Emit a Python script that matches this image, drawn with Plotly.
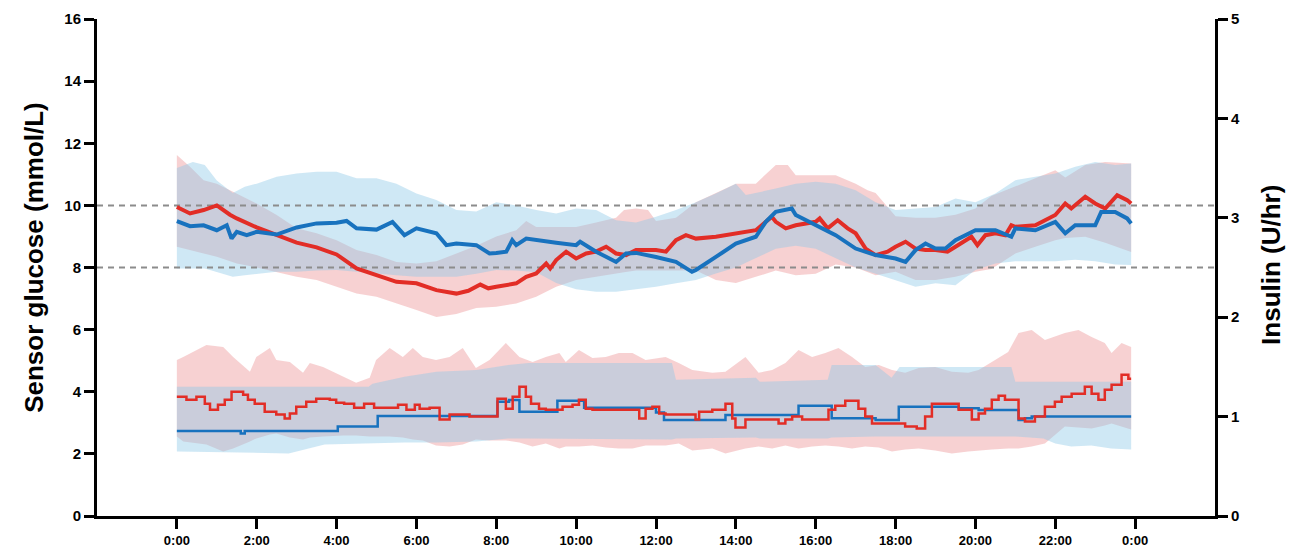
import plotly.graph_objects as go

# ---------------- DATA (hours since midnight) ----------------
# Sensor glucose means (mmol/L)
red_glu_t = [0, 0.33, 0.67, 1.0, 1.33, 1.5, 2.0, 2.5, 3.0, 3.5, 4.0, 4.5, 5.0, 5.5, 6.0, 6.5, 7.0, 7.3, 7.6, 7.8,
             8.0, 8.5, 8.75, 9.0, 9.25, 9.35, 9.5, 9.75, 10.0, 10.25, 10.5, 10.75, 11.0, 11.25, 11.5, 12.0, 12.25,
             12.5, 12.75, 13.0, 13.5, 14.0, 14.5, 14.75, 14.9, 15.0, 15.25, 15.5, 16.0, 16.1, 16.3, 16.55, 16.8,
             17.0, 17.25, 17.5, 17.8, 18.0, 18.25, 18.5, 18.75, 19.0, 19.3, 19.5, 19.9, 20.05, 20.25, 20.5, 20.75,
             20.9, 21.0, 21.5, 22.0, 22.25, 22.4, 22.75, 23.0, 23.25, 23.55, 23.8, 23.9]
red_glu = [9.95, 9.74, 9.85, 10.0, 9.7, 9.58, 9.29, 9.04, 8.8, 8.65, 8.42, 7.97, 7.75, 7.54, 7.49, 7.27, 7.16, 7.25, 7.45, 7.33,
           7.38, 7.49, 7.7, 7.81, 8.13, 7.97, 8.24, 8.51, 8.29, 8.45, 8.51, 8.67, 8.45, 8.4, 8.56, 8.56, 8.51,
           8.88, 9.04, 8.93, 8.99, 9.1, 9.2, 9.47, 9.63, 9.47, 9.26, 9.36, 9.47, 9.58, 9.26, 9.52, 9.26,
           9.1, 8.61, 8.4, 8.51, 8.67, 8.83, 8.61, 8.56, 8.56, 8.51, 8.67, 8.99, 8.72, 9.04, 9.1, 9.04,
           9.36, 9.31, 9.36, 9.69, 10.06, 9.9, 10.28, 10.06, 9.9, 10.33, 10.17, 10.06]

blue_glu_t = [0, 0.33, 0.67, 1.0, 1.25, 1.37, 1.5, 1.75, 2.0, 2.5, 3.0, 3.5, 4.0, 4.25, 4.5, 5.0, 5.4, 5.7, 6.0, 6.5,
              6.75, 7.0, 7.5, 7.83, 8.0, 8.25, 8.4, 8.5, 8.75, 9.0, 9.5, 10.0, 10.1, 10.5, 11.0, 11.25, 11.5, 12.0,
              12.5, 12.9, 13.0, 13.5, 14.0, 14.5, 14.75, 15.0, 15.4, 15.5, 16.0, 16.5, 17.0, 17.5, 18.0, 18.25,
              18.5, 18.75, 19.0, 19.25, 19.5, 20.0, 20.5, 20.9, 21.0, 21.5, 22.0, 22.25, 22.5, 23.0, 23.15, 23.5,
              23.8, 23.9]
blue_glu = [9.49, 9.33, 9.36, 9.2, 9.36, 8.93, 9.15, 9.04, 9.15, 9.06, 9.29, 9.42, 9.44, 9.5, 9.26, 9.22, 9.47, 9.04, 9.26, 9.1,
            8.72, 8.77, 8.72, 8.45, 8.47, 8.51, 8.88, 8.72, 8.93, 8.88, 8.8, 8.72, 8.83, 8.51, 8.18, 8.45, 8.47, 8.34,
            8.18, 7.86, 7.92, 8.34, 8.77, 8.99, 9.47, 9.79, 9.9, 9.69, 9.36, 9.04, 8.61, 8.4, 8.29, 8.18,
            8.56, 8.77, 8.61, 8.61, 8.88, 9.2, 9.2, 8.99, 9.26, 9.2, 9.47, 9.1, 9.36, 9.36, 9.79, 9.79,
            9.58, 9.42]

# Glucose spread bands (mmol/L)
red_glu_band_t = [0, 0.33, 0.67, 1.0, 1.33, 1.5, 2.0, 2.5, 3.0, 3.5, 4.0, 4.5, 5.0, 5.5, 6.0, 6.5, 7.0, 7.5, 8.0, 8.5,
                  8.75, 9.0, 9.5, 10.0, 10.5, 11.0, 11.2, 11.5, 11.8, 12.0, 12.5, 13.0, 13.5, 14.0, 14.5, 15.0,
                  15.3, 15.5, 16.0, 16.5, 17.0, 17.3, 17.5, 18.0, 18.5, 19.0, 19.5, 20.0, 20.4, 21.0, 21.5, 22.0,
                  22.25, 22.75, 23.25, 23.9]
red_glu_hi = [11.62, 11.24, 10.81, 10.7, 10.49, 10.38, 10.06, 9.69, 9.26, 9.1, 8.88, 8.56, 8.4, 8.18, 8.13, 8.2, 8.45, 8.7, 9.0, 9.2,
              9.5, 9.3, 9.3, 9.3, 9.45, 9.6, 9.85, 9.9, 9.85, 9.5, 9.6, 10.1, 10.4, 10.7, 10.7, 11.3,
              11.3, 10.97, 10.97, 10.97, 10.7, 10.49, 10.4, 9.65, 9.6, 9.6, 9.7, 9.9, 10.3, 10.6, 10.87, 11.13,
              10.9, 11.3, 11.4, 11.35]
red_glu_lo = [8.67, 8.55, 8.45, 8.35, 8.2, 8.13, 8.0, 7.86, 7.7, 7.6, 7.38, 7.16, 7.06, 6.84, 6.63, 6.41, 6.5, 6.7, 6.74, 6.84,
              6.95, 7.06, 7.38, 7.6, 7.7, 7.8, 7.85, 7.9, 7.9, 7.9, 7.9, 7.9, 7.6, 7.5, 7.7, 7.9,
              7.8, 7.75, 7.8, 8.1, 8.0, 7.85, 7.75, 7.86, 7.6, 7.6, 7.7, 7.86, 7.95, 8.45, 8.67, 8.88,
              8.95, 8.99, 8.8, 8.5]

blue_glu_band_t = [0, 0.4, 0.7, 1.0, 1.4, 1.7, 2.0, 2.5, 3.0, 3.5, 4.0, 4.5, 5.0, 5.5, 6.0, 6.5, 7.0, 7.5, 8.0, 8.5,
                   9.0, 9.5, 10.0, 10.5, 11.0, 11.5, 12.0, 12.5, 13.0, 13.5, 14.0, 14.25, 15.0, 15.5, 16.0, 16.5,
                   17.0, 17.5, 18.0, 18.5, 19.0, 19.5, 20.0, 20.5, 21.0, 21.5, 22.0, 22.5, 23.0, 23.5, 23.9]
blue_glu_hi = [11.2, 11.4, 11.3, 10.8, 10.4, 10.6, 10.7, 10.92, 11.03, 11.08, 11.08, 10.87, 10.87, 10.7, 10.38, 10.17, 9.85, 9.8, 10.1, 10.0,
               9.85, 9.74, 9.9, 9.85, 9.52, 9.45, 9.63, 9.85, 10.1, 10.38, 10.7, 10.33, 10.54, 10.7, 10.76, 10.7,
               10.49, 10.1, 9.85, 9.9, 9.95, 10.22, 10.1, 10.38, 10.81, 10.92, 11.03, 11.24, 11.4, 11.3, 11.35]
blue_glu_lo = [7.97, 7.97, 7.97, 7.86, 7.7, 7.75, 7.8, 7.86, 7.86, 7.9, 7.92, 7.85, 7.8, 7.75, 7.7, 7.7, 7.7, 7.8, 7.92, 7.9,
               7.85, 7.5, 7.3, 7.22, 7.22, 7.3, 7.38, 7.49, 7.6, 7.81, 8.0, 8.15, 8.6, 8.7, 8.6, 8.3,
               8.0, 7.8, 7.6, 7.38, 7.49, 7.43, 7.92, 8.13, 8.2, 8.2, 8.2, 8.25, 8.2, 8.1, 8.08]

# Insulin delivery (U/hr), step series: value holds from each time to the next
red_ins_t = [0.0, 0.24, 0.49, 0.70, 0.83, 1.03, 1.20, 1.37, 1.66, 1.78, 1.95, 2.2, 2.49, 2.7, 2.83, 2.99, 3.24, 3.49,
             3.83, 3.99, 4.19, 4.44, 4.69, 4.94, 5.54, 5.75, 5.96, 6.08, 6.33, 6.58, 6.83, 7.33, 8.03, 8.24, 8.41,
             8.58, 8.74, 8.87, 9.07, 9.24, 9.66, 9.91, 10.07, 10.24, 10.41, 11.58, 11.74, 11.91, 12.08, 12.24,
             12.99, 13.08, 13.41, 13.74, 13.91, 13.99, 14.24, 15.07, 15.24, 15.41, 15.66, 16.32, 16.49, 16.74,
             17.07, 17.24, 17.41, 18.24, 18.53, 18.74, 18.91, 19.58, 19.91, 20.08, 20.24, 20.41, 20.58, 20.74,
             21.08, 21.24, 21.49, 21.74, 21.99, 22.16, 22.41, 22.74, 22.91, 23.08, 23.24, 23.41, 23.66, 23.83, 23.9]
red_ins = [1.20, 1.17, 1.20, 1.13, 1.07, 1.12, 1.17, 1.25, 1.22, 1.17, 1.13, 1.05, 1.02, 0.98, 1.03, 1.10, 1.15, 1.18,
           1.17, 1.14, 1.13, 1.09, 1.13, 1.09, 1.12, 1.07, 1.12, 1.08, 1.09, 0.97, 1.02, 1.00, 1.18, 1.08, 1.20,
           1.30, 1.20, 1.13, 1.08, 1.07, 1.10, 1.12, 1.17, 1.08, 1.07, 0.98, 1.08, 1.10, 1.03, 1.02,
           0.97, 1.05, 1.07, 1.13, 0.98, 0.89, 0.97, 0.93, 0.97, 1.00, 0.97, 1.07, 1.11, 1.16,
           1.08, 1.00, 0.93, 0.90, 0.88, 1.00, 1.13, 1.07, 0.97, 1.03, 1.08, 1.17, 1.21, 1.17,
           0.98, 0.95, 1.00, 1.10, 1.15, 1.20, 1.23, 1.30, 1.23, 1.17, 1.27, 1.32, 1.42, 1.38, 1.38]

blue_ins_t = [0.0, 1.6, 1.7, 4.03, 5.03, 8.03, 8.32, 8.58, 9.53, 10.2, 12.0, 12.2, 13.74, 15.57, 16.4, 17.5, 18.08,
              19.58, 20.08, 21.08, 21.24, 21.41, 23.9]
blue_ins = [0.855, 0.83, 0.855, 0.90, 1.006, 1.15, 1.167, 1.05, 1.16, 1.09, 1.04, 0.966, 1.016, 1.11, 0.983, 0.966, 1.10,
            1.083, 1.067, 0.966, 0.983, 1.0, 1.0]

# Insulin spread bands (U/hr)
red_ins_band_t = [0.0, 0.16, 0.74, 1.16, 1.41, 1.83, 1.99, 2.33, 2.49, 2.83, 3.16, 3.33, 3.66, 4.16, 4.49, 4.83, 4.99,
                  5.33, 5.66, 5.91, 6.16, 6.49, 6.83, 7.16, 7.49, 7.83, 8.24, 8.58, 8.91, 9.24, 9.58, 9.74, 10.07,
                  10.41, 10.74, 11.07, 11.41, 11.74, 12.24, 12.57, 12.91, 13.41, 13.74, 14.24, 14.57, 14.91, 15.24,
                  15.57, 15.91, 16.24, 16.57, 16.91, 17.24, 17.58, 17.91, 18.24, 18.58, 18.99, 19.41, 19.82, 20.08,
                  20.41, 20.82, 21.08, 21.41, 21.74, 22.24, 22.58, 22.91, 23.24, 23.41, 23.66, 23.9]
red_ins_hi = [1.57, 1.60, 1.72, 1.70, 1.60, 1.45, 1.60, 1.69, 1.57, 1.55, 1.44, 1.54, 1.50, 1.40, 1.34, 1.39, 1.57,
              1.69, 1.60, 1.69, 1.60, 1.57, 1.60, 1.69, 1.49, 1.57, 1.74, 1.60, 1.55, 1.60, 1.64, 1.55, 1.67,
              1.59, 1.60, 1.64, 1.64, 1.57, 1.60, 1.54, 1.47, 1.44, 1.45, 1.60, 1.44, 1.47, 1.54,
              1.67, 1.60, 1.64, 1.69, 1.60, 1.50, 1.52, 1.47, 1.44, 1.49, 1.50, 1.45, 1.44, 1.47,
              1.55, 1.65, 1.84, 1.87, 1.77, 1.84, 1.87, 1.80, 1.74, 1.64, 1.74, 1.70]
red_ins_lo = [0.80, 0.75, 0.72, 0.65, 0.68, 0.75, 0.78, 0.82, 0.83, 0.79, 0.77, 0.79, 0.80, 0.81, 0.81, 0.80, 0.80,
              0.80, 0.79, 0.77, 0.76, 0.71, 0.70, 0.72, 0.77, 0.76, 0.76, 0.74, 0.70, 0.73, 0.68, 0.70, 0.70,
              0.71, 0.69, 0.68, 0.68, 0.71, 0.71, 0.73, 0.66, 0.68, 0.63, 0.68, 0.70, 0.68, 0.71,
              0.68, 0.70, 0.71, 0.70, 0.68, 0.70, 0.69, 0.65, 0.67, 0.68, 0.66, 0.63, 0.65, 0.66,
              0.67, 0.68, 0.68, 0.70, 0.73, 0.90, 0.89, 0.88, 0.91, 0.93, 0.90, 0.87]

blue_ins_band_t = [0.0, 1.2, 2.8, 3.7, 4.8, 4.9, 5.7, 6.5, 7.5, 8.3, 8.8, 12.4, 12.5, 14.5, 14.6, 16.3, 16.4, 17.5,
                   17.9, 18.1, 20.9, 21.0, 21.7, 22.0, 22.4, 22.9, 23.4, 23.9]
blue_ins_hi = [1.30, 1.30, 1.30, 1.30, 1.30, 1.33, 1.40, 1.45, 1.47, 1.52, 1.54, 1.54, 1.37, 1.39, 1.35, 1.37, 1.52, 1.52,
               1.39, 1.50, 1.50, 1.35, 1.35, 1.35, 1.35, 1.35, 1.35, 1.35]
blue_ins_lo = [0.65, 0.64, 0.63, 0.72, 0.73, 0.73, 0.74, 0.74, 0.75, 0.78, 0.78, 0.77, 0.78, 0.79, 0.78, 0.78, 0.79, 0.80,
               0.80, 0.80, 0.80, 0.80, 0.78, 0.73, 0.70, 0.71, 0.68, 0.67]

target_range = [8, 10]
x_ticks = list(range(0, 25, 2))
x_tick_labels = ["0:00", "2:00", "4:00", "6:00", "8:00", "10:00", "12:00", "14:00", "16:00", "18:00", "20:00", "22:00", "0:00"]
x_range = [-2, 26]
glu_range = [0, 16]
ins_range = [0, 5]

# ---------------- STYLE ----------------
RED = "rgb(226,45,38)"
BLUE = "rgb(24,114,190)"
RED_FILL = "rgba(235,135,138,0.38)"
BLUE_FILL = "rgba(140,200,232,0.42)"
FONT = "Arial, Liberation Sans, sans-serif"

fig = go.Figure()


def band(t, hi, lo, color, yaxis):
    fig.add_trace(go.Scatter(
        x=list(t) + list(t)[::-1], y=list(hi) + list(lo)[::-1],
        fill="toself", fillcolor=color, line=dict(width=0), mode="lines",
        hoverinfo="skip", showlegend=False, yaxis=yaxis))


# glucose bands
band(red_glu_band_t, red_glu_hi, red_glu_lo, RED_FILL, "y")
band(blue_glu_band_t, blue_glu_hi, blue_glu_lo, BLUE_FILL, "y")

# target range dashed lines
for v in target_range:
    fig.add_trace(go.Scatter(x=x_range, y=[v, v], mode="lines",
                             line=dict(color="rgb(140,140,140)", width=2, dash="6px,5px"),
                             showlegend=False, hoverinfo="skip", yaxis="y"))

# glucose means
fig.add_trace(go.Scatter(x=red_glu_t, y=red_glu, mode="lines", line=dict(color=RED, width=4),
                         showlegend=False, yaxis="y"))
fig.add_trace(go.Scatter(x=blue_glu_t, y=blue_glu, mode="lines", line=dict(color=BLUE, width=4),
                         showlegend=False, yaxis="y"))

# insulin bands and steps (right axis)
band(red_ins_band_t, red_ins_hi, red_ins_lo, RED_FILL, "y2")
band(blue_ins_band_t, blue_ins_hi, blue_ins_lo, BLUE_FILL, "y2")
fig.add_trace(go.Scatter(x=blue_ins_t, y=blue_ins, mode="lines", line=dict(color=BLUE, width=2.5, shape="hv"),
                         showlegend=False, yaxis="y2"))
fig.add_trace(go.Scatter(x=red_ins_t, y=red_ins, mode="lines", line=dict(color=RED, width=2.5, shape="hv"),
                         showlegend=False, yaxis="y2"))

axis_common = dict(showgrid=False, zeroline=False, showline=True, linecolor="black", linewidth=3,
                   ticks="outside", ticklen=10, tickwidth=3, tickcolor="black", automargin=False,
                   tickfont=dict(family=FONT, size=15, color="black", weight="bold"))

# the page body adds an 8px offset; margins compensate so the plot area lands at x 97-1215, y 19-516
fig.update_layout(
    width=1295, height=553,
    margin=dict(l=89, r=88, t=11, b=45),
    paper_bgcolor="white", plot_bgcolor="white",
    showlegend=False,
    xaxis=dict(range=x_range, tickmode="array", tickvals=x_ticks, ticktext=x_tick_labels,
               **{**axis_common, "tickfont": dict(family=FONT, size=13, color="black", weight="bold")}),
    yaxis=dict(range=glu_range, tickmode="array", tickvals=list(range(0, 17, 2)), **axis_common),
    yaxis2=dict(range=ins_range, overlaying="y", side="right", tickmode="array", tickvals=list(range(0, 6)),
                **axis_common),
    annotations=[
        dict(text="Sensor glucose (mmol/L)", xref="paper", yref="paper", x=-0.057, y=0.52, textangle=-90,
             showarrow=False, xanchor="center", yanchor="middle",
             font=dict(family=FONT, size=26, color="black", weight="bold")),
        dict(text="Insulin (U/hr)", xref="paper", yref="paper", x=1.05, y=0.505, textangle=-90,
             showarrow=False, xanchor="center", yanchor="middle",
             font=dict(family=FONT, size=26, color="black", weight="bold")),
    ],
)

fig.write_html("out.html")
